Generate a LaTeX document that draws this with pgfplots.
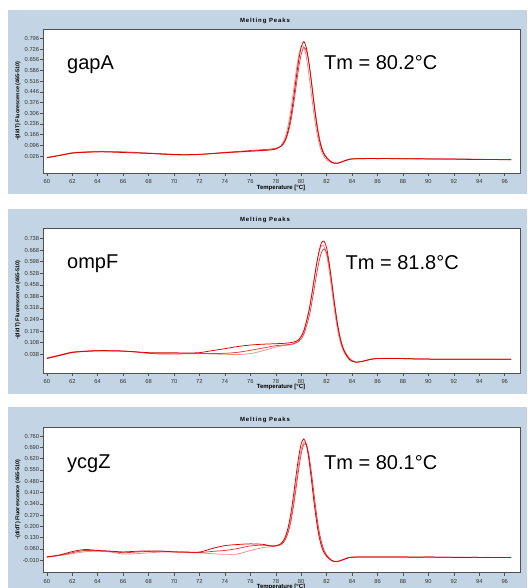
\documentclass[border=0pt]{standalone}
\usepackage{pgfplots}
\pgfplotsset{compat=1.18}
\usepackage{pgfplotstable}
\usepackage{fontspec}
\setmainfont{Liberation Sans}
\newfontfamily\titlefont[LetterSpace=15]{Liberation Sans}

\definecolor{panelbg}{RGB}{195,213,228}
\definecolor{frame}{RGB}{80,80,80}
\definecolor{curveA}{RGB}{222,0,0}
\definecolor{curveB}{RGB}{238,140,140}
\definecolor{curveC}{RGB}{228,60,60}

% gapA
\pgfplotstableread{
T A B C
60 0.015 0.017 0.014
61 0.030 0.032 0.029
62 0.046 0.048 0.044
63 0.051 0.054 0.050
64 0.054 0.057 0.053
65 0.052 0.055 0.054
66 0.049 0.052 0.053
67 0.046 0.050 0.049
68 0.043 0.046 0.044
69 0.040 0.042 0.038
70 0.036 0.038 0.034
71 0.035 0.036 0.033
72 0.037 0.037 0.036
73 0.042 0.041 0.043
74 0.048 0.046 0.050
75 0.053 0.051 0.056
76 0.058 0.056 0.062
77 0.063 0.061 0.068
77.5 0.066 0.064 0.071
78.0 0.072 0.072 0.077
78.4 0.090 0.093 0.088
78.6 0.110 0.120 0.104
78.8 0.144 0.166 0.135
79.0 0.204 0.238 0.186
79.2 0.292 0.337 0.262
79.4 0.406 0.457 0.364
79.6 0.533 0.580 0.483
79.8 0.652 0.682 0.601
80.0 0.739 0.742 0.692
80.2 0.775 0.742 0.736
80.4 0.735 0.675 0.716
80.6 0.640 0.560 0.638
80.8 0.508 0.430 0.518
81.0 0.367 0.300 0.383
81.2 0.240 0.190 0.258
81.4 0.143 0.110 0.157
81.6 0.076 0.055 0.086
81.8 0.036 0.020 0.042
82.0 0.013 0.000 0.017
82.4 -0.015 -0.018 -0.014
82.8 -0.022 -0.022 -0.021
83.2 -0.012 -0.013 -0.011
83.6 0.000 -0.001 0.001
84 0.007 0.006 0.008
85 0.009 0.009 0.010
86 0.009 0.010 0.009
87 0.009 0.009 0.010
88 0.008 0.009 0.008
89 0.008 0.007 0.009
90 0.007 0.008 0.007
91 0.006 0.006 0.007
92 0.006 0.005 0.006
93 0.004 0.005 0.006
94 0.004 0.004 0.005
95 0.003 0.004 0.003
96 0.002 0.003 0.003
96.5 0.002 0.002 0.003
}\gapA

% ompF
\pgfplotstableread{
T A B C
60 0.014 0.016 0.012
61 0.032 0.034 0.030
62 0.050 0.052 0.048
63 0.056 0.058 0.055
64 0.060 0.061 0.058
65 0.060 0.059 0.058
66 0.058 0.056 0.057
67 0.053 0.052 0.052
68 0.048 0.045 0.044
69 0.047 0.043 0.040
70 0.047 0.044 0.040
71 0.046 0.044 0.041
72 0.048 0.043 0.042
73 0.060 0.040 0.043
74 0.072 0.038 0.044
75 0.085 0.037 0.050
76 0.094 0.042 0.062
77 0.099 0.060 0.076
78 0.102 0.082 0.090
78.6 0.104 0.090 0.094
79.0 0.107 0.094 0.097
79.4 0.112 0.100 0.102
79.8 0.126 0.124 0.116
80.2 0.178 0.181 0.159
80.6 0.297 0.305 0.260
80.8 0.383 0.392 0.336
81.0 0.481 0.488 0.425
81.2 0.578 0.581 0.517
81.4 0.660 0.654 0.599
81.6 0.713 0.695 0.655
81.8 0.721 0.690 0.675
82.0 0.679 0.637 0.650
82.2 0.590 0.542 0.576
82.4 0.473 0.427 0.472
82.6 0.351 0.310 0.357
82.8 0.242 0.210 0.250
83.0 0.155 0.132 0.163
83.2 0.093 0.079 0.100
83.4 0.054 0.046 0.059
83.7 0.015 0.012 0.022
84.0 -0.004 -0.005 0.000
84.3 -0.010 -0.010 -0.009
84.8 -0.005 -0.004 -0.005
85.4 0.007 0.008 0.006
86 0.013 0.014 0.012
87 0.013 0.014 0.013
88 0.012 0.013 0.012
89 0.010 0.011 0.010
90 0.009 0.009 0.009
91 0.008 0.008 0.008
92 0.008 0.008 0.008
93 0.008 0.008 0.008
94 0.008 0.008 0.008
95 0.008 0.008 0.008
96 0.008 0.008 0.008
96.5 0.008 0.008 0.008
}\ompF

% ycgZ
\pgfplotstableread{
T A B C
60 0.010 0.012 0.008
61 0.022 0.018 0.020
62 0.043 0.030 0.036
63 0.056 0.042 0.050
64 0.050 0.045 0.048
65 0.046 0.040 0.044
66 0.041 0.028 0.036
67 0.045 0.030 0.040
68 0.047 0.035 0.044
69 0.046 0.040 0.045
70 0.041 0.040 0.042
71 0.040 0.038 0.039
72 0.040 0.035 0.037
73 0.062 0.030 0.044
74 0.080 0.026 0.050
75 0.087 0.028 0.062
76 0.091 0.050 0.078
77 0.088 0.068 0.083
77.5 0.080 0.072 0.078
78.0 0.079 0.078 0.077
78.4 0.092 0.089 0.086
78.6 0.111 0.104 0.099
78.8 0.146 0.134 0.125
79.0 0.203 0.184 0.168
79.2 0.287 0.258 0.235
79.4 0.396 0.358 0.328
79.6 0.518 0.475 0.440
79.8 0.631 0.590 0.555
80.0 0.713 0.680 0.652
80.2 0.743 0.722 0.708
80.4 0.709 0.710 0.707
80.6 0.617 0.632 0.644
80.8 0.490 0.512 0.535
81.0 0.354 0.380 0.405
81.2 0.232 0.255 0.279
81.4 0.138 0.156 0.174
81.6 0.074 0.087 0.099
81.8 0.035 0.043 0.050
82.0 0.013 0.017 0.021
82.4 -0.014 -0.013 -0.011
82.8 -0.019 -0.020 -0.019
83.2 -0.010 -0.011 -0.009
83.6 0.002 0.001 0.003
84 0.008 0.008 0.009
85 0.009 0.009 0.010
86 0.009 0.010 0.009
87 0.009 0.009 0.010
88 0.009 0.009 0.009
89 0.008 0.008 0.009
90 0.009 0.008 0.009
91 0.008 0.008 0.008
92 0.007 0.008 0.007
93 0.007 0.007 0.008
94 0.007 0.007 0.007
95 0.006 0.007 0.006
96 0.006 0.006 0.006
96.5 0.006 0.006 0.006
}\ycgZ

\pgfplotsset{
  melt/.style={
    scale only axis,
    width=477pt,
    anchor=north west,
    xmin=59.7, xmax=97.2,
    xtick={60,62,...,96},
    axis background/.style={fill=white},
    axis line style={draw=frame, line width=0.8pt},
    tick style={draw=frame, line width=0.5pt},
    tick align=outside,
    major tick length=3pt,
    tick pos=left,
    tick label style={font=\fontsize{5.8}{7}\selectfont, text=black!80},
    yticklabel style={inner sep=0.6pt},
    /pgf/number format/assume math mode=true,
    every axis plot/.append style={line width=0.75pt, smooth, no markers},
  },
}

\newcommand{\paneltext}[2]{% y offset, gene
  \node[font=\titlefont\bfseries\fontsize{6}{7}\selectfont] at (265pt,{-21pt-#1}) {Melting Peaks};
  \node[font=\bfseries\fontsize{6}{7}\selectfont] at (281pt,{-188pt-#1}) {Temperature [°C]};
  \node[font=\bfseries\fontsize{5.5}{6.5}\selectfont, rotate=90] at (18pt,{-101pt-#1}) {-(d/dT) Fluorescence (465-510)};
  \node[font=\fontsize{20}{24}\selectfont, anchor=base west, inner sep=0pt] at (67pt,{-69.5pt-#1}) {#2};
}

\begin{document}
\begin{tikzpicture}
\path[use as bounding box] (0,0) rectangle (527pt,-588pt);
\fill[white] (0,0) rectangle (527pt,-588pt);
\fill[panelbg] (8pt,-10pt) rectangle (527pt,-194pt);
\fill[panelbg] (8pt,-209pt) rectangle (527pt,-394pt);
\fill[panelbg] (8pt,-407pt) rectangle (527pt,-588pt);

% gapA
\begin{axis}[melt, at={(43pt,-29pt)}, height=144pt,
  ymin=-0.085, ymax=0.857,
  ytick={0.026,0.096,0.166,0.236,0.306,0.376,0.446,0.516,0.586,0.656,0.726,0.796},
  yticklabels={0.026,0.096,0.166,0.236,0.306,0.376,0.446,0.516,0.586,0.656,0.726,0.796}]
\addplot[curveB] table[x=T, y=B] {\gapA};
\addplot[curveC] table[x=T, y=C] {\gapA};
\addplot[curveA] table[x=T, y=A] {\gapA};
\end{axis}
\paneltext{0pt}{gapA}
\node[font=\fontsize{20}{24}\selectfont, anchor=base west, inner sep=0pt] at (324pt,-70pt) {Tm = 80.2°C};

% ompF
\begin{axis}[melt, at={(43pt,-228.5pt)}, height=144.5pt,
  ymin=-0.075, ymax=0.798,
  ytick={0.038,0.108,0.178,0.248,0.318,0.388,0.458,0.528,0.598,0.668,0.738},
  yticklabels={0.038,0.108,0.178,0.249,0.318,0.388,0.458,0.528,0.598,0.668,0.738}]
\addplot[curveB] table[x=T, y=B] {\ompF};
\addplot[curveC] table[x=T, y=C] {\ompF};
\addplot[curveA] table[x=T, y=A] {\ompF};
\end{axis}
\paneltext{199pt}{ompF}
\node[font=\fontsize{20}{24}\selectfont, anchor=base west, inner sep=0pt] at (345.5pt,-269pt) {Tm = 81.8°C};

% ycgZ
\begin{axis}[melt, at={(43pt,-427.5pt)}, height=145pt,
  ymin=-0.087, ymax=0.814,
  ytick={-0.010,0.060,0.130,0.200,0.270,0.340,0.410,0.480,0.550,0.620,0.690,0.760},
  yticklabels={-0.010,0.060,0.130,0.200,0.270,0.340,0.410,0.480,0.550,0.620,0.690,0.760}]
\addplot[curveB] table[x=T, y=B] {\ycgZ};
\addplot[curveC] table[x=T, y=C] {\ycgZ};
\addplot[curveA] table[x=T, y=A] {\ycgZ};
\end{axis}
\paneltext{398.5pt}{ycgZ}
\node[font=\fontsize{20}{24}\selectfont, anchor=base west, inner sep=0pt] at (324pt,-469pt) {Tm = 80.1°C};
\end{tikzpicture}
\end{document}
